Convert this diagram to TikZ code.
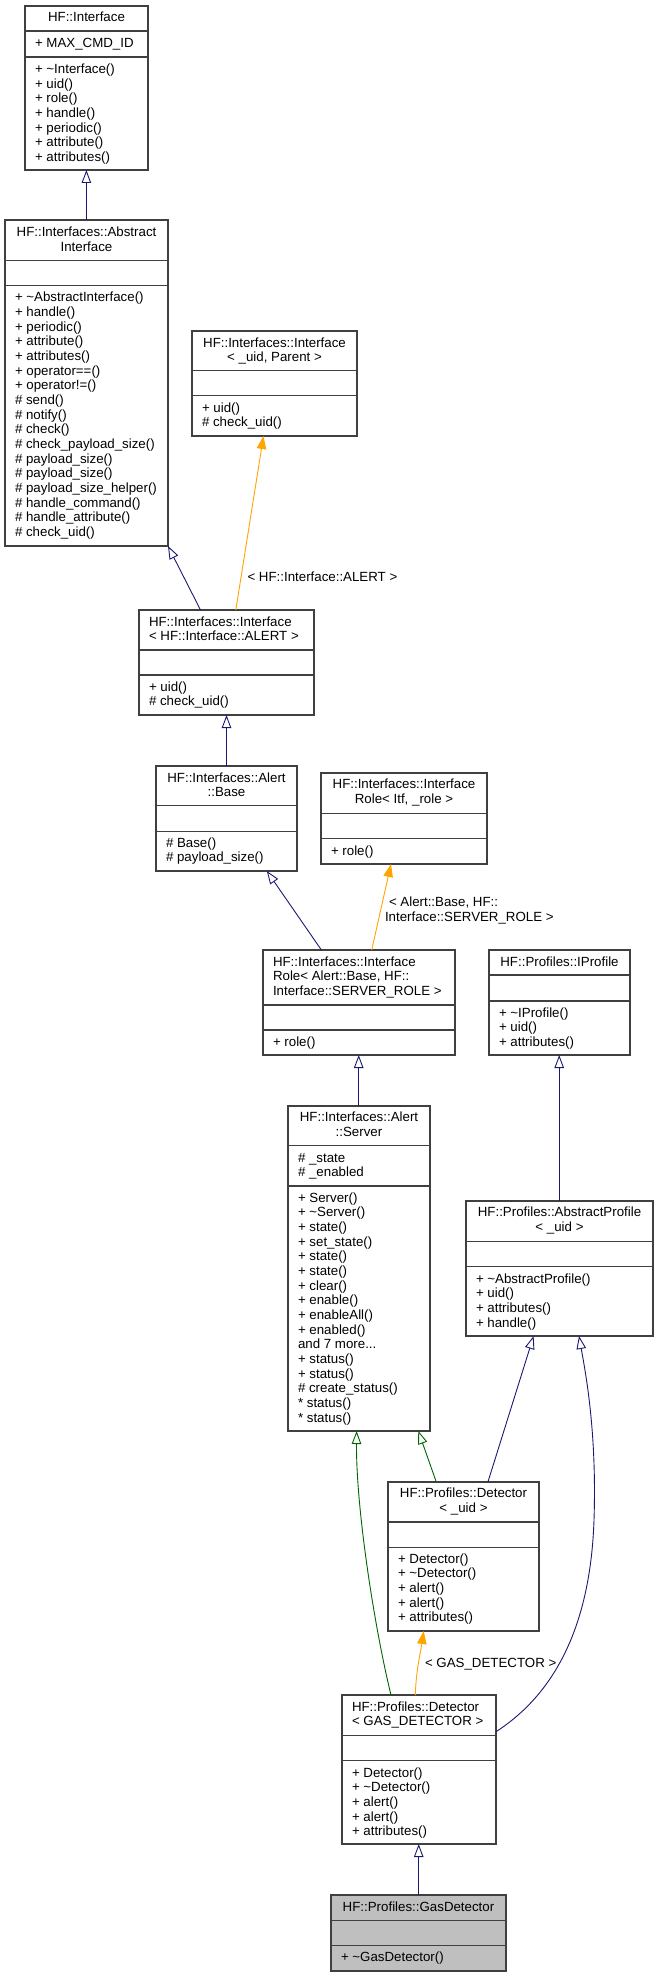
\documentclass[tikz,border=0pt]{standalone}
\usepackage{fontspec}
\setmainfont{Liberation Sans}
\usetikzlibrary{arrows.meta}
\definecolor{edgeblue}{HTML}{191970}
\definecolor{edgegreen}{HTML}{006400}
\definecolor{edgeorange}{HTML}{FFA500}
\definecolor{hlfill}{HTML}{BFBFBF}
\definecolor{boxline}{HTML}{404040}
\newcommand\tld{\textasciitilde{}}
\newcommand\threedots{...}
\tikzset{
 classbox/.style={draw=boxline, line width=1.1pt, fill=white, inner sep=0pt, outer sep=0pt},
 divline/.style={draw=boxline, line width=1.1pt},
 txt/.style={inner sep=0pt, outer sep=0pt, font=\fontsize{13.3}{14.67}\selectfont},
 inhblue/.style={draw=edgeblue, line width=0.9pt, -{Triangle[open, length=13pt, width=9.5pt, line width=0.9pt]}},
 inhgreen/.style={draw=edgegreen, line width=0.9pt, -{Triangle[open, length=13pt, width=9.5pt, line width=0.9pt]}},
 tplorange/.style={draw=edgeorange, line width=0.9pt, -{Triangle[length=13pt, width=9.5pt]}, edgeorange},
}
% name, x1, y1, x2, y2, div1, div2, extra style
\newcommand\umlbox[8]{%
 \node[classbox,#8, minimum width={#4-#2}, minimum height={#5-#3}, anchor=north west] (#1) at (#2,#3) {};
 \draw[divline] (#2,#6) -- (#4,#6) (#2,#7) -- (#4,#7);
}
% name, x, first baseline, anchor, list
\newcommand\txtlines[5]{%
 \foreach \t [count=\i] in {#5} \node[txt, anchor=#4] (#1-\i) at (#2, {#3+(\i-1)*14.67}) {\t};
}
\begin{document}
\begin{tikzpicture}[x=1pt, y=-1pt]
\useasboundingbox (0,0) rectangle (657,1977);

% HF::Interface
\umlbox{iface}{25}{6}{148}{170}{31}{57}{}
\txtlines{iface-t}{86.5}{22}{base}{HF::Interface}
\txtlines{iface-a}{35}{47.2}{base west}{+ MAX\_CMD\_ID}
\txtlines{iface-m}{35}{73.5}{base west}{+ \tld Interface(), + uid(), + role(), + handle(), + periodic(), + attribute(), + attributes()}

% AbstractInterface
\umlbox{absif}{5}{220}{168}{546}{260.7}{285.7}{}
\txtlines{absif-t}{86.5}{236.8}{base}{HF::Interfaces::Abstract, Interface}
\txtlines{absif-m}{15}{301.8}{base west}{+ \tld AbstractInterface(), + handle(), + periodic(), + attribute(), + attributes(), + operator==(), + operator!=(), \# send(), \# notify(), \# check(), \# check\_payload\_size(), \# payload\_size(), \# payload\_size(), \# payload\_size\_helper(), \# handle\_command(), \# handle\_attribute(), \# check\_uid()}

% Interface< _uid, Parent >
\umlbox{iftpl}{192}{331}{357}{436}{370.7}{395.7}{}
\txtlines{iftpl-t}{274.5}{347.2}{base}{HF::Interfaces::Interface, {< \_uid, Parent >}}
\txtlines{iftpl-m}{202}{412.2}{base west}{+ uid(), \# check\_uid()}

% Interface< HF::Interface::ALERT >
\umlbox{ifalert}{139}{610}{314}{715}{650}{675}{}
\txtlines{ifalert-t}{149}{626.2}{base west}{HF::Interfaces::Interface, < HF::Interface::ALERT >}
\txtlines{ifalert-m}{149}{691.2}{base west}{+ uid(), \# check\_uid()}

% Alert::Base
\umlbox{abase}{156}{766}{297}{871}{805.7}{831.7}{}
\txtlines{abase-t}{226.5}{782.2}{base}{HF::Interfaces::Alert, ::Base}
\txtlines{abase-m}{166}{847.2}{base west}{\# Base(), \# payload\_size()}

% InterfaceRole< Itf, _role >
\umlbox{roletpl}{321}{773}{487}{864}{813.3}{838.7}{}
\txtlines{roletpl-t}{404}{788.8}{base}{HF::Interfaces::Interface, {Role< Itf, \_role >}}
\txtlines{roletpl-m}{331}{855.2}{base west}{+ role()}

% InterfaceRole< Alert::Base, HF::Interface::SERVER_ROLE >
\umlbox{rolealert}{263}{950}{455}{1055}{1005}{1030}{}
\txtlines{rolealert-t}{273}{966.2}{base west}{HF::Interfaces::Interface, {Role< Alert::Base, HF::}, Interface::SERVER\_ROLE >}
\txtlines{rolealert-m}{273}{1046.2}{base west}{+ role()}

% IProfile
\umlbox{iprof}{489}{950}{630}{1055}{975}{1001}{}
\txtlines{iprof-t}{559.5}{966.2}{base}{HF::Profiles::IProfile}
\txtlines{iprof-m}{499}{1017.2}{base west}{+ \tld IProfile(), + uid(), + attributes()}

% Alert::Server
\umlbox{server}{288}{1106}{430}{1431}{1145.7}{1186}{}
\txtlines{server-t}{359}{1121.8}{base}{HF::Interfaces::Alert, ::Server}
\txtlines{server-a}{298}{1162.2}{base west}{\# \_state, \# \_enabled}
\txtlines{server-m}{298}{1202.2}{base west}{+ Server(), + \tld Server(), + state(), + set\_state(), + state(), + state(), + clear(), + enable(), + enableAll(), + enabled(), and 7 more\threedots, + status(), + status(), \# create\_status(), * status(), * status()}

% AbstractProfile< _uid >
\umlbox{absprof}{466}{1201}{653}{1336}{1241.7}{1266.7}{}
\txtlines{absprof-t}{559.5}{1216.8}{base}{HF::Profiles::AbstractProfile, < \_uid >}
\txtlines{absprof-m}{476}{1283.2}{base west}{+ \tld AbstractProfile(), + uid(), + attributes(), + handle()}

% Detector< _uid >
\umlbox{dettpl}{388}{1482}{539}{1631}{1522}{1547.7}{}
\txtlines{dettpl-t}{463.5}{1497.8}{base}{HF::Profiles::Detector, < \_uid >}
\txtlines{dettpl-m}{398}{1563.2}{base west}{+ Detector(), + \tld Detector(), + alert(), + alert(), + attributes()}

% Detector< GAS_DETECTOR >
\umlbox{detgas}{342}{1695}{496}{1844}{1735.3}{1760.7}{}
\txtlines{detgas-t}{352}{1711.2}{base west}{HF::Profiles::Detector, < GAS\_DETECTOR >}
\txtlines{detgas-m}{352}{1777.2}{base west}{+ Detector(), + \tld Detector(), + alert(), + alert(), + attributes()}

% GasDetector
\umlbox{gas}{331}{1895}{506}{1971}{1920.7}{1945.7}{fill=hlfill}
\txtlines{gas-t}{418.5}{1911.2}{base}{HF::Profiles::GasDetector}
\txtlines{gas-m}{341}{1961.8}{base west}{+ \tld GasDetector()}

% connectors
\draw[inhblue] ([xshift=81.4pt]absif.north west) -- ([xshift=61.4pt]iface.south west);
\draw[inhblue] ([xshift=61.5pt]ifalert.north west) -- (absif.south east);
\draw[tplorange] ([xshift=96.8pt]ifalert.north west) -- ([xshift=71.5pt]iftpl.south west);
\node[txt, anchor=base west] (lblalert) at (247.5, 581.2) {< HF::Interface::ALERT >};
\draw[inhblue] ([xshift=70.5pt]abase.north west) -- ([xshift=87.5pt]ifalert.south west);
\draw[inhblue] ([xshift=58.4pt]rolealert.north west) -- ([xshift=110.8pt]abase.south west);
\draw[tplorange] ([xshift=108.7pt]rolealert.north west) -- ([xshift=70pt]roletpl.south west);
\node[txt, anchor=base west] (lblrole1) at (389, 906.8) {< Alert::Base, HF::};
\node[txt, anchor=base west] (lblrole2) at (385, 921.2) {Interface::SERVER\_ROLE >};
\draw[inhblue] ([xshift=70.7pt]server.north west) -- ([xshift=95.7pt]rolealert.south west);
\draw[inhblue] ([xshift=93.2pt]absprof.north west) -- ([xshift=70.2pt]iprof.south west);
\draw[inhgreen] ([xshift=48.3pt]dettpl.north west) -- ([xshift=130.3pt]server.south west);
\draw[inhblue] ([xshift=99.9pt]dettpl.north west) -- ([xshift=67.6pt]absprof.south west);
\draw[inhgreen] ([xshift=49pt]detgas.north west) .. controls (375,1630) and (356,1510) .. ([xshift=68.6pt]server.south west);
\draw[tplorange] ([xshift=73.3pt]detgas.north west) .. controls (416,1670) and (421,1650) .. ([xshift=35.7pt]dettpl.south west);
\node[txt, anchor=base west] (lblgas) at (425, 1667.2) {< GAS\_DETECTOR >};
\draw[inhblue] ([yshift=-36.7pt]detgas.north east) .. controls (545,1700) and (590,1640) .. (594,1520) .. controls (597,1430) and (585,1370) .. ([xshift=113pt]absprof.south west);
\draw[inhblue] ([xshift=87.7pt]gas.north west) -- ([xshift=76.7pt]detgas.south west);
\end{tikzpicture}
\end{document}
